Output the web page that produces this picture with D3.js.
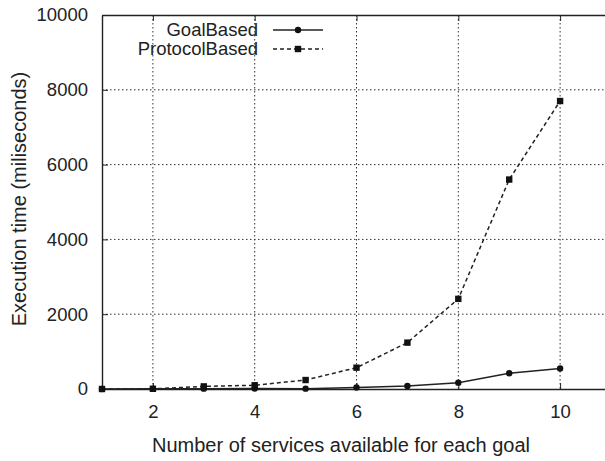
<!DOCTYPE html>
<html>
<head>
<meta charset="utf-8">
<script src="https://cdn.jsdelivr.net/npm/d3@7"></script>
<style>
  body { margin: 0; background: #fff; }
  svg { font-family: "Liberation Sans", Arial, sans-serif; }
</style>
</head>
<body>
<script>
(function(){

    //chart data
    var services = [1, 2, 3, 4, 5, 6, 7, 8, 9, 10];
    var goalBased = [0, 5, 10, 15, 10, 40, 80, 170, 420, 550];
    var protocolBased = [0, 5, 70, 100, 240, 570, 1240, 2410, 5600, 7700];
    var xTicks = [2, 4, 6, 8, 10];
    var yTicks = [0, 2000, 4000, 6000, 8000, 10000];

    var width = 605, height = 461;
    var left = 102, top = 15, bottom = 389, right = 611;

    var svg = d3.select("body").append("svg")
        .attr("width", width)
        .attr("height", height);

    var x = d3.scaleLinear().domain([1, 11]).range([left, right]);
    var y = d3.scaleLinear().domain([0, 10000]).range([bottom, top]);

    //dotted grid
    svg.append("g").selectAll("line")
        .data(xTicks)
        .enter().append("line")
        .attr("x1", function(d){ return x(d); })
        .attr("x2", function(d){ return x(d); })
        .attr("y1", top)
        .attr("y2", bottom)
        .attr("stroke", "#333")
        .attr("stroke-width", 1)
        .attr("stroke-dasharray", "1.5,2.5");

    svg.append("g").selectAll("line")
        .data(yTicks.slice(1, -1))
        .enter().append("line")
        .attr("x1", left)
        .attr("x2", width)
        .attr("y1", function(d){ return y(d); })
        .attr("y2", function(d){ return y(d); })
        .attr("stroke", "#333")
        .attr("stroke-width", 1)
        .attr("stroke-dasharray", "1.5,2.5");

    //axes
    var xAxis = svg.append("g")
        .attr("transform", "translate(0," + bottom + ")")
        .call(d3.axisBottom(x).tickValues(xTicks).tickSizeInner(-6).tickSizeOuter(0).tickPadding(16).tickFormat(d3.format("d")));
    var xTop = svg.append("g")
        .attr("transform", "translate(0," + top + ")")
        .call(d3.axisTop(x).tickValues(xTicks).tickSizeInner(-6).tickSizeOuter(0).tickFormat(""));
    var yAxis = svg.append("g")
        .attr("transform", "translate(" + left + ",0)")
        .call(d3.axisLeft(y).tickValues(yTicks).tickSizeInner(-6).tickSizeOuter(0).tickPadding(14).tickFormat(d3.format("d")));

    [xAxis, xTop, yAxis].forEach(function(g){
        g.select(".domain").attr("stroke", "#222").attr("stroke-width", 1.4);
        g.selectAll(".tick line").attr("stroke", "#222").attr("stroke-width", 1);
        g.selectAll("text").attr("font-size", 18.5).attr("fill", "#222")
            .attr("font-family", "Liberation Sans, Arial, sans-serif");
    });

    //axis titles
    svg.append("text")
        .attr("x", 341)
        .attr("y", 452)
        .attr("text-anchor", "middle")
        .attr("font-size", 20)
        .attr("fill", "#222")
        .text("Number of services available for each goal");

    svg.append("text")
        .attr("transform", "translate(26,199) rotate(-90)")
        .attr("text-anchor", "middle")
        .attr("font-size", 20)
        .attr("fill", "#222")
        .text("Execution time (miliseconds)");

    //series
    var line = d3.line()
        .x(function(d){ return x(d[0]); })
        .y(function(d){ return y(d[1]); });

    var goalData = services.map(function(s, i){ return [s, goalBased[i]]; });
    var protoData = services.map(function(s, i){ return [s, protocolBased[i]]; });

    svg.append("path")
        .datum(protoData)
        .attr("d", line)
        .attr("fill", "none")
        .attr("stroke", "#222")
        .attr("stroke-width", 1.5)
        .attr("stroke-dasharray", "4,3");

    svg.append("path")
        .datum(goalData)
        .attr("d", line)
        .attr("fill", "none")
        .attr("stroke", "#222")
        .attr("stroke-width", 1.5);

    svg.append("g").selectAll("circle")
        .data(goalData)
        .enter().append("circle")
        .attr("cx", function(d){ return x(d[0]); })
        .attr("cy", function(d){ return y(d[1]); })
        .attr("r", 3.2)
        .attr("fill", "#111");

    svg.append("g").selectAll("rect")
        .data(protoData)
        .enter().append("rect")
        .attr("x", function(d){ return x(d[0]) - 3.2; })
        .attr("y", function(d){ return y(d[1]) - 3.2; })
        .attr("width", 6.4)
        .attr("height", 6.4)
        .attr("fill", "#111");

    //legend
    var legend = svg.append("g");
    var legendItems = [
        {name: "GoalBased", dash: null, marker: "circle", y: 30},
        {name: "ProtocolBased", dash: "4,3", marker: "square", y: 49}
    ];
    legendItems.forEach(function(d){
        legend.append("text")
            .attr("x", 258)
            .attr("y", d.y)
            .attr("dy", "0.35em")
            .attr("text-anchor", "end")
            .attr("font-size", 18.5)
            .attr("fill", "#222")
            .text(d.name);
        legend.append("line")
            .attr("x1", 273).attr("x2", 323)
            .attr("y1", d.y).attr("y2", d.y)
            .attr("stroke", "#222")
            .attr("stroke-width", 1.5)
            .attr("stroke-dasharray", d.dash);
        if (d.marker == "circle") {
            legend.append("circle").attr("cx", 298).attr("cy", d.y).attr("r", 3.2).attr("fill", "#111");
        } else {
            legend.append("rect").attr("x", 294.8).attr("y", d.y - 3.2).attr("width", 6.4).attr("height", 6.4).attr("fill", "#111");
        }
    });

})();
</script>
</body>
</html>
